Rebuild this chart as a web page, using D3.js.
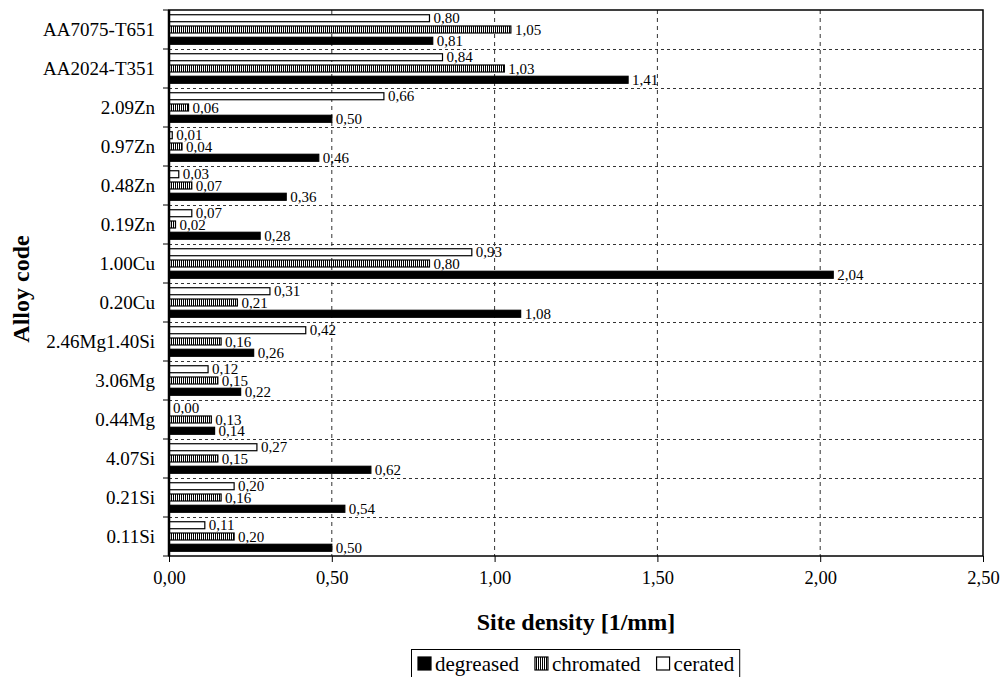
<!DOCTYPE html>
<html>
<head>
<meta charset="utf-8">
<script src="https://cdn.jsdelivr.net/npm/d3@7"></script>
<style>
  body { margin: 0; background: #fff; }
  svg text { font-family: "Liberation Serif", "Times New Roman", serif; fill: #000; }
</style>
</head>
<body>
<script>
// categories, top to bottom
var alloys = ["AA7075-T651", "AA2024-T351", "2.09Zn", "0.97Zn", "0.48Zn", "0.19Zn", "1.00Cu",
              "0.20Cu", "2.46Mg1.40Si", "3.06Mg", "0.44Mg", "4.07Si", "0.21Si", "0.11Si"];
var series = ["cerated", "chromated", "degreased"];
var legendOrder = ["degreased", "chromated", "cerated"];

// site density values
var degreased = [0.81, 1.41, 0.50, 0.46, 0.36, 0.28, 2.04, 1.08, 0.26, 0.22, 0.14, 0.62, 0.54, 0.50];
var chromated = [1.05, 1.03, 0.06, 0.04, 0.07, 0.02, 0.80, 0.21, 0.16, 0.15, 0.13, 0.15, 0.16, 0.20];
var cerated   = [0.80, 0.84, 0.66, 0.01, 0.03, 0.07, 0.93, 0.31, 0.42, 0.12, 0.00, 0.27, 0.20, 0.11];

var xTicks = [0, 0.5, 1.0, 1.5, 2.0, 2.5];

var values = {degreased: degreased, chromated: chromated, cerated: cerated};

var W = 1001, H = 677;
var margin = {top: 10, right: 18, bottom: 121, left: 169},
    width = W - margin.left - margin.right,
    height = H - margin.top - margin.bottom;

var fmt = function(v) { return d3.format(".2f")(v).replace(".", ","); };

var svg = d3.select("body").append("svg")
    .attr("width", W)
    .attr("height", H)
    .attr("font-family", "Liberation Serif, serif");

// stripe pattern for chromated
var defs = svg.append("defs");
var pat = defs.append("pattern")
    .attr("id", "stripes")
    .attr("patternUnits", "userSpaceOnUse")
    .attr("width", 2).attr("height", 4);
pat.append("rect").attr("width", 2).attr("height", 4).attr("fill", "#fff");
pat.append("rect").attr("width", 1).attr("height", 4).attr("fill", "#000");

var fills = {degreased: "#000", chromated: "url(#stripes)", cerated: "#fff"};

var g = svg.append("g")
    .attr("transform", "translate(" + margin.left + "," + margin.top + ")");

var x = d3.scaleLinear().domain([0, 2.5]).range([0, width]);
var y = d3.scaleBand().domain(alloys).range([0, height]);
var y1 = d3.scaleBand().domain(series).range([0, y.bandwidth()])
    .paddingInner(0.38).paddingOuter(0.42);

// grid lines
g.append("g").selectAll("line")
    .data(xTicks.slice(1, -1))
  .enter().append("line")
    .attr("x1", x).attr("x2", x)
    .attr("y1", 0).attr("y2", height)
    .attr("stroke", "#333").attr("stroke-width", 1)
    .attr("stroke-dasharray", "4,4");

g.append("g").selectAll("line")
    .data(alloys.slice(1))
  .enter().append("line")
    .attr("x1", 0).attr("x2", width)
    .attr("y1", function(d) { return Math.round(y(d)) + 0.5; })
    .attr("y2", function(d) { return Math.round(y(d)) + 0.5; })
    .attr("stroke", "#333").attr("stroke-width", 1)
    .attr("stroke-dasharray", "3,3");

// bars
var groups = g.selectAll(".grp")
    .data(alloys)
  .enter().append("g")
    .attr("class", "grp")
    .attr("transform", function(d) { return "translate(0," + y(d) + ")"; });

var bars = groups.selectAll("g")
    .data(function(d, i) { return series.map(function(s) { return {s: s, v: values[s][i]}; }); })
  .enter().append("g");

bars.append("rect")
    .attr("x", 0)
    .attr("y", function(d) { return y1(d.s); })
    .attr("width", function(d) { return x(d.v); })
    .attr("height", y1.bandwidth())
    .attr("fill", function(d) { return fills[d.s]; })
    .attr("stroke", "#000")
    .attr("stroke-width", function(d) { return d.v > 0 ? 1.2 : 0; });

bars.append("text")
    .attr("x", function(d) { return x(d.v) + 4; })
    .attr("y", function(d) { return y1(d.s) + y1.bandwidth() / 2; })
    .attr("dy", "0.35em")
    .attr("font-size", 15)
    .text(function(d) { return fmt(d.v); });

// frame
g.append("rect")
    .attr("width", width).attr("height", height)
    .attr("fill", "none").attr("stroke", "#000").attr("stroke-width", 1.5);
g.append("line")
    .attr("x1", 0).attr("x2", 0).attr("y1", 0).attr("y2", height)
    .attr("stroke", "#000").attr("stroke-width", 2.5);

// axes
var yAxis = g.append("g")
    .call(d3.axisLeft(y).tickSize(0).tickPadding(14));
yAxis.select(".domain").remove();
yAxis.selectAll("text")
    .attr("font-size", 19)
    .attr("font-family", "Liberation Serif, serif");
// y tick marks at band boundaries
g.append("g").selectAll("line")
    .data(alloys.concat(["end"]))
  .enter().append("line")
    .attr("x1", -6).attr("x2", 0)
    .attr("y1", function(d, i) { return i * y.step(); })
    .attr("y2", function(d, i) { return i * y.step(); })
    .attr("stroke", "#000");

var xAxis = g.append("g")
    .attr("transform", "translate(0," + height + ")")
    .call(d3.axisBottom(x).tickValues(xTicks).tickFormat(fmt).tickSize(6).tickPadding(9));
xAxis.select(".domain").remove();
xAxis.selectAll("text")
    .attr("font-size", 18.5)
    .attr("font-family", "Liberation Serif, serif");

// axis titles
svg.append("text")
    .attr("x", margin.left + width / 2)
    .attr("y", 630)
    .attr("text-anchor", "middle")
    .attr("font-size", 24)
    .attr("font-weight", "bold")
    .text("Site density [1/mm]");

svg.append("text")
    .attr("transform", "translate(29," + 289 + ") rotate(-90)")
    .attr("text-anchor", "middle")
    .attr("font-size", 24)
    .attr("font-weight", "bold")
    .text("Alloy code");

// legend
var legend = svg.append("g");
var lx = 418, ly = 664;
legendOrder.forEach(function(s) {
  legend.append("rect")
      .attr("x", lx).attr("y", ly - 7)
      .attr("width", 13).attr("height", 13)
      .attr("fill", fills[s]).attr("stroke", "#000").attr("stroke-width", 1.2);
  var t = legend.append("text")
      .attr("x", lx + 17).attr("y", ly)
      .attr("dy", "0.35em")
      .attr("font-size", 21)
      .attr("font-family", "Liberation Serif, serif")
      .text(s);
  lx += 17 + t.node().getComputedTextLength() + 16;
});
legend.insert("rect", ":first-child")
    .attr("x", 411.5).attr("y", 649.5)
    .attr("width", lx - 411 - 11).attr("height", 32)
    .attr("fill", "#fff").attr("stroke", "#000").attr("stroke-width", 1);
</script>
</body>
</html>
